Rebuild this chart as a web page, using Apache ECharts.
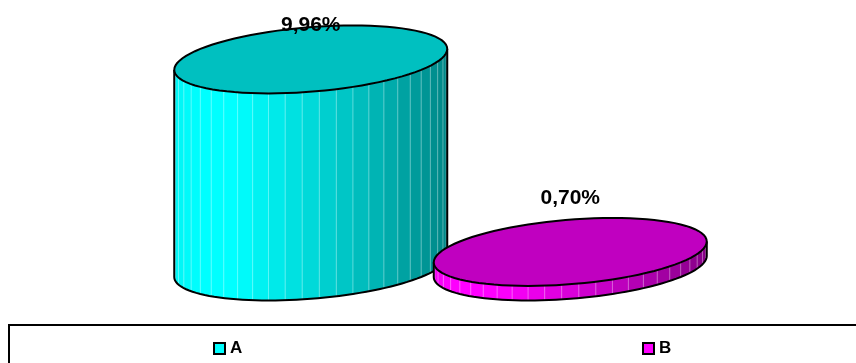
<!DOCTYPE html>
<html>
<head>
<meta charset="utf-8">
<script src="https://cdn.jsdelivr.net/npm/echarts@6/dist/echarts.min.js"></script>
<style>
  html, body { margin: 0; padding: 0; background: #fff; }
  #chart { width: 856px; height: 363px; }
</style>
</head>
<body>
<div id="chart"></div>
<script>
var categories = ['A', 'B'];
var values = [9.96, 0.70];
var sideColors = ['#00ffff', '#ff00ff'];
var topColors = ['#00c0c0', '#c000c0'];
var legendLeft = [208, 637];

var FACETS = 25;

// brightness of a facet, u = 0 left edge .. 1 right edge
function shadeFactor(u) {
  var stops = [[0, 0.96], [0.1, 1], [0.22, 1], [0.5, 0.85], [0.75, 0.7], [1, 0.53]];
  for (var j = 1; j < stops.length; j++) {
    if (u <= stops[j][0]) {
      var a = stops[j - 1], b = stops[j];
      return a[1] + (b[1] - a[1]) * (u - a[0]) / (b[0] - a[0]);
    }
  }
  return stops[stops.length - 1][1];
}

function shade(hex, f) {
  var n = parseInt(hex.slice(1), 16);
  var r = Math.round(((n >> 16) & 255) * f);
  var g = Math.round(((n >> 8) & 255) * f);
  var b = Math.round((n & 255) * f);
  return 'rgb(' + r + ',' + g + ',' + b + ')';
}

function makeRender(idx) {
  return function (params, api) {
    var v = api.value(1);
    var top = api.coord([idx, v]);
    var base = api.coord([idx, 0]);
    var R = api.size([1, 0])[0] * 0.526;
    var r = R * 0.2366;
    var k = 0.077;
    var cx = top[0];
    function pt(t, y) {
      return [cx + R * Math.cos(t), y - k * R * Math.cos(t) + r * Math.sin(t)];
    }
    var children = [];
    // side facets (front half)
    for (var f = 0; f < FACETS; f++) {
      var t1 = Math.PI * f / FACETS, t2 = Math.PI * (f + 1) / FACETS;
      var pts = [], s, steps = 4;
      for (s = 0; s <= steps; s++) pts.push(pt(t1 + (t2 - t1) * s / steps, top[1]));
      for (s = steps; s >= 0; s--) pts.push(pt(t1 + (t2 - t1) * s / steps, base[1]));
      var tm = (t1 + t2) / 2;
      var u = (Math.cos(tm) + 1) / 2;
      children.push({
        type: 'polygon',
        shape: { points: pts },
        style: { fill: shade(sideColors[idx], shadeFactor(u)), stroke: shade(sideColors[idx], shadeFactor(u)), lineWidth: 0.6 }
      });
    }
    // facet edges
    for (f = 1; f < FACETS; f++) {
      var t = Math.PI * f / FACETS;
      var a = pt(t, top[1]), b = pt(t, base[1]);
      children.push({
        type: 'line',
        shape: { x1: a[0], y1: a[1], x2: b[0], y2: b[1] },
        style: { stroke: 'rgba(255,255,255,0.35)', lineWidth: 1 }
      });
    }
    // side outline
    var outline = [];
    for (s = 0; s <= 60; s++) outline.push(pt(Math.PI * s / 60, base[1]));
    outline.unshift(pt(0, top[1]));
    outline.push(pt(Math.PI, top[1]));
    children.push({
      type: 'polyline',
      shape: { points: outline },
      style: { fill: null, stroke: '#000', lineWidth: 2 }
    });
    // top ellipse
    var topPts = [];
    for (s = 0; s < 90; s++) topPts.push(pt(2 * Math.PI * s / 90, top[1]));
    children.push({
      type: 'polygon',
      shape: { points: topPts },
      style: { fill: topColors[idx], stroke: '#000', lineWidth: 2 }
    });
    // value label
    var labelY = Math.max(params.coordSys.y + 8, top[1] - 53.5);
    children.push({
      type: 'text',
      style: {
        text: values[idx].toFixed(2).replace('.', ',') + '%',
        x: cx,
        y: labelY,
        align: 'center',
        verticalAlign: 'middle',
        fill: '#000',
        font: 'bold 21px "Liberation Sans", Arial, sans-serif'
      }
    });
    return { type: 'group', children: children };
  };
}

var chart = echarts.init(document.getElementById('chart'), null, { renderer: 'canvas' });

var option = {
  backgroundColor: '#fff',
  animation: false,
  grid: { left: 181, width: 519, top: 17, height: 249.5 },
  xAxis: { type: 'category', data: categories, show: false },
  yAxis: { type: 'value', min: 0, max: 12, show: false },
  legend: categories.map(function (name, i) {
    return {
      data: [name],
      left: legendLeft[i],
      top: 335,
      icon: 'rect',
      itemWidth: 11,
      itemHeight: 11,
      itemGap: 5,
      selectedMode: false,
      itemStyle: { borderColor: '#000', borderWidth: 2 },
      textStyle: { fontFamily: 'Liberation Sans', fontWeight: 'bold', fontSize: 17, color: '#000' }
    };
  }),
  graphic: [{
    type: 'rect',
    shape: { x: 9, y: 325, width: 900, height: 60 },
    style: { fill: null, stroke: '#000', lineWidth: 2 },
    silent: true
  }],
  series: categories.map(function (name, i) {
    return {
      type: 'custom',
      name: name,
      clip: false,
      itemStyle: { color: sideColors[i] },
      renderItem: makeRender(i),
      data: [[i, values[i]]]
    };
  })
};

chart.setOption(option);
</script>
</body>
</html>
